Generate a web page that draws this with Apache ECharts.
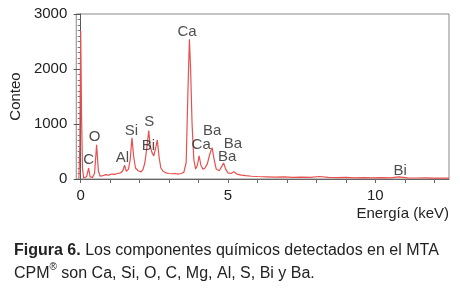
<!DOCTYPE html>
<html>
<head>
<meta charset="utf-8">
<script src="https://cdn.jsdelivr.net/npm/echarts@6/dist/echarts.min.js"></script>
<style>
  html, body { margin: 0; padding: 0; background: #fff; }
  #espectro { width: 460px; height: 289px; }
</style>
</head>
<body>
<div id="espectro"></div>
<script>
// espectro EDS: energia (keV) y conteo
var energia = [-0.06, -0.03, 0.0, 0.03, 0.06, 0.1, 0.15, 0.2, 0.27, 0.32, 0.4, 0.47, 0.54, 0.6, 0.66,
  0.75, 0.85, 0.95, 1.05, 1.15, 1.25, 1.35, 1.43, 1.49, 1.55, 1.62, 1.68, 1.74, 1.8, 1.86, 1.95,
  2.05, 2.12, 2.18, 2.24, 2.31, 2.36, 2.42, 2.48, 2.54, 2.6, 2.66, 2.72, 2.8, 2.9, 3.0, 3.1, 3.2,
  3.3, 3.4, 3.5, 3.58, 3.64, 3.69, 3.73, 3.78, 3.84, 3.9, 3.96, 4.02, 4.08, 4.15, 4.22, 4.3, 4.38,
  4.46, 4.52, 4.6, 4.7, 4.78, 4.85, 4.92, 5.0, 5.1, 5.2, 5.3, 5.45, 5.6, 5.8, 6.0, 6.3, 6.6, 6.9,
  7.2, 7.5, 7.8, 8.1, 8.4, 8.7, 9.0, 9.3, 9.6, 9.9, 10.2, 10.5, 10.8, 11.1, 11.4, 11.7, 12.0, 12.3, 12.5];
var conteo = [10, 600, 2690, 1150, 200, 20, 15, 40, 200, 40, 30, 100, 620, 150, 50,
  60, 80, 70, 90, 85, 100, 110, 150, 250, 140, 180, 350, 750, 400, 200, 150,
  130, 180, 300, 550, 880, 600, 480, 420, 550, 710, 400, 200, 140, 110, 100, 95, 100,
  90, 100, 120, 300, 1600, 2540, 2000, 1000, 350, 180, 250, 420, 250, 180, 200, 280, 450,
  570, 380, 180, 150, 220, 290, 180, 110, 100, 130, 90, 70, 60, 50, 45, 40, 35, 40,
  30, 35, 28, 45, 30, 25, 30, 22, 25, 20, 25, 22, 40, 20, 18, 20, 15, 18, 15];

// etiquetas de elementos
var elementos = ['Ca', 'Si', 'S', 'Bi', 'O', 'C', 'Al', 'Ca', 'Ba', 'Ba', 'Ba', 'Bi'];
var elemX = [3.61, 1.72, 2.33, 2.30, 0.47, 0.27, 1.42, 4.09, 4.46, 5.17, 4.97, 10.84];
var elemY = [2670, 880, 1040, 600, 770, 350, 385, 620, 880, 640, 400, 150];

var ticksX = [0, 1, 2, 3, 4, 5, 6, 7, 8, 9, 10, 11, 12];
var etiquetasX = [0, 5, 10];

var chart = echarts.init(document.getElementById('espectro'));
var fuente = 'Liberation Sans, Arial, sans-serif';

chart.setOption({
  animation: false,
  textStyle: { fontFamily: fuente },
  title: {
    left: 9,
    top: 234,
    text: '{b|Figura 6.} Los componentes químicos detectados en el MTA\nCPM{s|®} son Ca, Si, O, C, Mg, Al, S, Bi y Ba.',
    textStyle: {
      fontFamily: fuente,
      fontSize: 16,
      fontWeight: 'normal',
      color: '#222',
      lineHeight: 23,
      rich: {
        b: { fontFamily: fuente, fontSize: 16, fontWeight: 'bold', color: '#222', lineHeight: 23 },
        s: { fontFamily: fuente, fontSize: 10, color: '#222', verticalAlign: 'top', lineHeight: 23 }
      }
    }
  },
  grid: {
    left: 75, right: 11, top: 14, bottom: 110,
    show: true, borderColor: '#888', borderWidth: 1
  },
  xAxis: {
    type: 'value',
    min: -0.15,
    max: 12.5,
    name: 'Energía (keV)',
    nameLocation: 'end',
    nameGap: 0,
    nameTextStyle: { fontSize: 15, color: '#222', align: 'right', verticalAlign: 'top', padding: [27, 0, 0, 0] },
    splitLine: { show: false },
    axisLine: { lineStyle: { color: '#666' } },
    axisTick: { show: true, customValues: ticksX, length: 4, lineStyle: { color: '#666' } },
    axisLabel: { customValues: etiquetasX, fontSize: 15, color: '#222', margin: 9 }
  },
  yAxis: {
    type: 'value',
    min: 0,
    max: 3000,
    interval: 1000,
    name: 'Conteo',
    nameLocation: 'middle',
    nameGap: 50,
    nameTextStyle: { fontSize: 15, color: '#222' },
    splitLine: { show: false },
    axisLine: { lineStyle: { color: '#555' } },
    axisTick: { length: 7, lineStyle: { color: '#555' } },
    minorTick: { show: true, splitNumber: 10, length: 3, lineStyle: { color: '#777' } },
    axisLabel: {
      fontSize: 15, color: '#222', margin: 9,
      formatter: function (v) { return String(v); }
    }
  },
  series: [
    {
      type: 'line',
      data: energia.map(function (e, i) { return [e, conteo[i]]; }),
      showSymbol: false,
      lineStyle: { color: '#e6504f', width: 1.2 },
      z: 2
    },
    {
      type: 'scatter',
      symbolSize: 0,
      data: elemX.map(function (e, i) { return { name: elementos[i], value: [e, elemY[i]] }; }),
      label: {
        show: true,
        position: 'inside',
        formatter: '{b}',
        fontSize: 15,
        color: '#222'
      },
      z: 3
    }
  ]
});
</script>
</body>
</html>
